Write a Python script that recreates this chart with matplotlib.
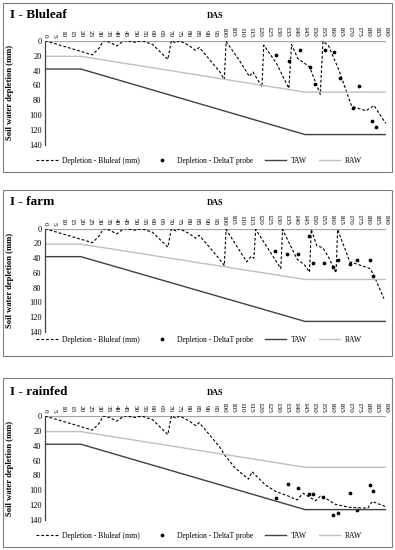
import matplotlib
matplotlib.use("Agg")
import matplotlib.pyplot as plt
from matplotlib.patches import Rectangle

plt.rcParams["font.family"] = ["Liberation Serif", "DejaVu Serif"]

# reference lines (days after sowing vs depletion, mm)
taw_das = [0, 20, 145, 190]
taw_dep = [38, 38, 126, 126]
raw_das = [0, 20, 145, 190]
raw_dep = [21, 21, 69, 69]

# simulated depletion, common start for all treatments
early_das = [0, 26.5, 30.5, 32.5, 36, 40, 44, 48, 50, 54, 60, 68.5, 70.5, 73, 75, 80, 84, 86, 92, 97.5]
early_dep = [0, 19, 9, 0, 2, 7, 0, 1, 2, 0, 5, 25, 0, 3, 0, 6, 13, 9, 26, 42]

bluleaf_das = [100, 101, 108, 114, 116, 121, 122, 129, 136, 137.5, 141, 147.5, 153.5, 155, 158,
               164, 171, 179, 183.5, 190]
bluleaf_dep = [52, 1, 25, 48, 42, 62, 6, 30, 64, 5, 24, 35, 72, 1, 6, 40, 88, 94, 87, 111]
bluleaf_probe_das = [129, 136, 142, 148, 150.5, 156, 161, 164.5, 171.5, 175, 182.5, 184.5]
bluleaf_probe_dep = [19, 27, 12.5, 35, 58.5, 12.5, 15.5, 50, 90, 61, 108, 116]

farm_das = [100, 101, 112.5, 115, 116.5, 117.5, 131.5, 132.5, 140.5, 145, 147.5, 148.5, 151.5,
            155, 158, 162.3, 163.2, 170, 175, 181, 183, 189]
farm_dep = [50, 1, 45, 37.5, 40, 1, 54, 1, 41, 50, 59, 1, 23, 26, 38, 60, 1, 45, 49, 54, 61, 95]
farm_probe_das = [128.5, 135, 141.3, 147.2, 149.3, 155.6, 160.4, 163.2, 170, 174.2, 181.3, 183.1]
farm_probe_dep = [30, 35, 34, 10, 47, 46.5, 52, 43, 48, 43, 43, 64.5]

rainfed_das = [100, 106, 113.5, 115.5, 123, 129, 135, 140.5, 144, 148, 151, 153.5, 156, 162,
               170, 180, 182.5, 190]
rainfed_dep = [52, 70, 85, 75, 93, 102, 107, 113, 104, 110, 114, 108, 110, 119, 123, 124, 115, 122]
rainfed_probe_das = [128.7, 135.4, 141.3, 147.2, 149.3, 155.2, 160.4, 163.2, 170, 174.2, 181.3, 183.1]
rainfed_probe_dep = [110, 92, 97, 105, 104.5, 109, 133, 131, 103, 126.5, 93, 100.5]

xticks = list(range(0, 195, 5))
yticks = list(range(0, 160, 20))

W, H = 395, 550
fig = plt.figure(figsize=(W / 100, H / 100), dpi=100)

# box top, box bottom, axis top (0 mm), axis bottom (140 mm), legend y, title y  (pixels)
panels = [
    ("I - Bluleaf", bluleaf_das, bluleaf_dep, bluleaf_probe_das, bluleaf_probe_dep,
     (3.3, 171.7, 40.7, 145, 161, 15)),
    ("I - farm", farm_das, farm_dep, farm_probe_das, farm_probe_dep,
     (190, 355.7, 228.7, 331.7, 340, 201.7)),
    ("I - rainfed", rainfed_das, rainfed_dep, rainfed_probe_das, rainfed_probe_dep,
     (378.3, 546.7, 416, 520, 536, 391.7)),
]

x0_px, x1_px = 45, 385.7

for title, das, dep, pdas, pdep, (btop, bbot, ytop, ybot, leg_y, tit_y) in panels:
    fig.patches.append(Rectangle((3.3 / W, 1 - bbot / H), (391.7 - 3.3) / W, (bbot - btop) / H,
                                 transform=fig.transFigure, fill=False, ec="#7f7f7f", lw=0.8))
    ax = fig.add_axes([x0_px / W, 1 - ybot / H, (x1_px - x0_px) / W, (ybot - ytop) / H])

    ax.plot([0, 190], [0, 0], color="#a6a6a6", lw=0.9)
    ax.plot(early_das + das, early_dep + dep, ls=(0, (2.5, 1.8)), color="black", lw=0.8,
            label="Depletion - Bluleaf (mm)")
    ax.plot(pdas, pdep, ls="none", marker="o", ms=1.7, color="black",
            label="Depletion - DeltaT probe")
    ax.plot(taw_das, taw_dep, color="#404040", lw=1.0, label="TAW")
    ax.plot(raw_das, raw_dep, color="#bfbfbf", lw=1.0, label="RAW")

    ax.set_xlim(0, 190)
    ax.set_ylim(140, 0)
    ax.set_xticks(xticks)
    ax.set_xticklabels([str(t) for t in xticks], rotation=-90, fontsize=5.2)
    ax.set_yticks(yticks)
    ax.set_yticklabels([str(t) for t in yticks], fontsize=6)
    ax.xaxis.tick_top()
    ax.tick_params(axis="both", length=0, pad=2.5)
    for s in ["right", "bottom", "top"]:
        ax.spines[s].set_visible(False)
    ax.spines["left"].set_color("#404040")
    ax.spines["left"].set_linewidth(0.9)

    ax.set_ylabel("Soil water depletion (mm)", fontsize=6.2, fontweight="bold")
    ax.yaxis.set_label_coords(-0.091, 0.5)
    ax.text(0.5, 1 + (ytop - (tit_y + 1.5)) / (ybot - ytop), "DAS", transform=ax.transAxes,
            ha="center", va="center", fontsize=6, fontweight="bold")
    fig.text(10 / W, 1 - tit_y / H, title, ha="left", va="center", fontsize=9.5, fontweight="bold")

    ax.legend(loc="center", bbox_to_anchor=(199 / W, 1 - leg_y / H), bbox_transform=fig.transFigure,
              ncol=4, frameon=False, fontsize=5.5, handlelength=2.8, handletextpad=0.6,
              columnspacing=1.5, markerscale=1.0)

fig.savefig("out.png", dpi=100)
